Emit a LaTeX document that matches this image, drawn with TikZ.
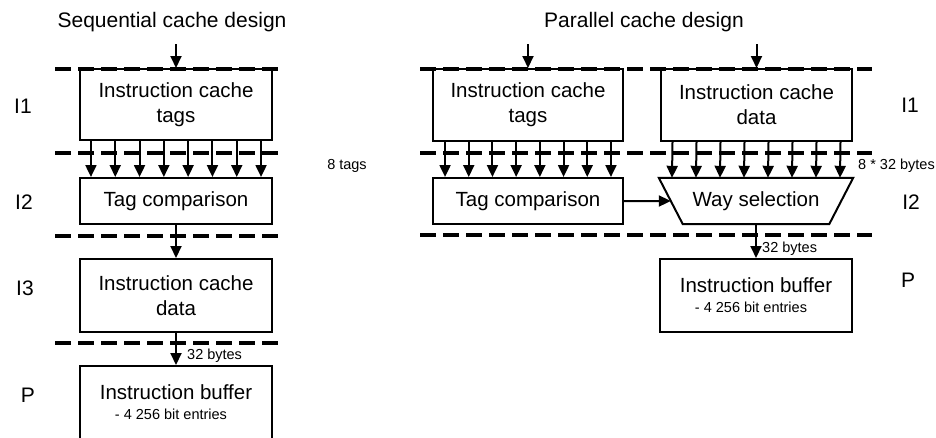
\documentclass[tikz,border=0pt]{standalone}
\usepackage{fontspec}
\setmainfont{Liberation Sans}
\usetikzlibrary{arrows.meta,calc}

\tikzset{
  unit/.style={draw, line width=2pt, inner sep=0pt, align=center,
    font=\fontsize{20.5}{25}\selectfont},
  arr/.style={line width=2pt, -{Triangle[length=12pt,width=11pt]}},
  stage/.style={line width=4pt, dash pattern=on 16pt off 7pt},
  lbl/.style={font=\fontsize{21}{25}\selectfont},
  note/.style={font=\fontsize{14.5}{17}\selectfont, inner sep=0pt},
}

\begin{document}
\begin{tikzpicture}[x=1pt, y=-1pt]
\useasboundingbox (0,0) rectangle (936,437);
\clip (0,0) rectangle (936,437);

% ---------------- sequential design ----------------
\node[lbl, anchor=base] (titleL) at (172,27) {Sequential cache design};

\draw[stage] (55,69) -- (278,69);
\draw[stage] (55,153) -- (278,153);
\draw[stage] (55,236) -- (278,236);
\draw[stage] (55,343) -- (278,343);

\node[unit, minimum width=192pt, minimum height=71pt] (tagsL) at (176,104.5) {Instruction cache\\tags};
\node[unit, minimum width=192pt, minimum height=46pt] (cmpL) at (176,201) {Tag comparison};
\node[unit, minimum width=192pt, minimum height=73pt] (dataL) at (176,295.5) {Instruction cache\\data};
\node[unit, minimum width=192pt, minimum height=73pt] (bufL) at (176,402.5) {};
\node[lbl, inner sep=0pt, font=\fontsize{20.5}{25}\selectfont] (bufLt) at ([yshift=-27pt]bufL.north) {Instruction buffer};
\node[note] (bufLs) at ([yshift=-49pt]bufL.north) {- 4 256 bit entries\rule{10pt}{0pt}};

\coordinate (inL) at (176,44);
\draw[arr] (inL) -- (tagsL.north);
\foreach \i in {0,...,7}
  \draw[arr] ([xshift={(\i-3.5)*24.3pt}]tagsL.south) -- ([xshift={(\i-3.5)*24.3pt}]cmpL.north);
\draw[arr] (cmpL.south) -- (dataL.north);
\draw[arr] (dataL.south) -- (bufL.north);

\node[note] (tagsN) at (347,166) {8 tags};
\node[note, anchor=west] (bytesL) at (187,356) {32 bytes};

\node[lbl] (i1L) at (23,106) {I1};
\node[lbl] (i2L) at (24,202) {I2};
\node[lbl] (i3L) at (25,288) {I3};
\node[lbl] (pL) at (28,395) {P};

% ---------------- parallel design ----------------
\node[lbl, anchor=base] (titleR) at (644,27) {Parallel cache design};

\draw[stage] (420,69) -- (872,69);
\draw[stage] (420,153) -- (872,153);
\draw[stage] (420,235) -- (872,235);

\node[unit, minimum width=190pt, minimum height=72pt] (tagsR) at (528,105) {Instruction cache\\tags};
\node[unit, minimum width=191pt, minimum height=72pt] (dataR) at (756.5,105) {Instruction cache\\data};
\node[unit, minimum width=190pt, minimum height=46pt] (cmpR) at (528,201) {Tag comparison};

% way selection multiplexer (trapezoid, wide side on top)
\node[lbl, font=\fontsize{20.5}{25}\selectfont, minimum width=146pt, minimum height=46pt, inner sep=0pt] (way) at (756,201) {Way selection};
\coordinate (wTL) at ([xshift=-24pt]way.north west);
\coordinate (wTR) at ([xshift=24pt]way.north east);
\draw[line width=2pt, line join=miter] (wTL) -- (wTR) -- (way.south east) -- (way.south west) -- cycle;
\coordinate (wL) at ($(wTL)!0.5!(way.south west)$);

\node[unit, minimum width=192pt, minimum height=73pt] (bufR) at (756,295.5) {};
\node[lbl, inner sep=0pt, font=\fontsize{20.5}{25}\selectfont] (bufRt) at ([yshift=-27pt]bufR.north) {Instruction buffer};
\node[note] (bufRs) at ([yshift=-49pt]bufR.north) {- 4 256 bit entries\rule{10pt}{0pt}};

\coordinate (inTR) at (528,44);
\coordinate (inDR) at (756.5,44);
\draw[arr] (inTR) -- (tagsR.north);
\draw[arr] (inDR) -- (dataR.north);
\foreach \i in {0,...,7} {
  \draw[arr] ([xshift={(\i-3.5)*23.7pt}]tagsR.south) -- ([xshift={(\i-3.5)*23.7pt}]cmpR.north);
  \draw[arr] ([xshift={(\i-3.5)*24pt}]dataR.south) -- ([xshift={(\i-3.5)*24pt}]way.north);
}
\draw[arr] (cmpR.east) -- (wL);
\draw[arr] (way.south) -- (bufR.north);

\node[note, anchor=base west] (bytesW) at (858,169) {8 * 32 bytes};
\node[note, anchor=west] (bytesR) at (762,249) {32 bytes};

\node[lbl] (i1R) at (910,105) {I1};
\node[lbl] (i2R) at (911,202) {I2};
\node[lbl] (pR) at (908,280) {P};
\end{tikzpicture}
\end{document}
